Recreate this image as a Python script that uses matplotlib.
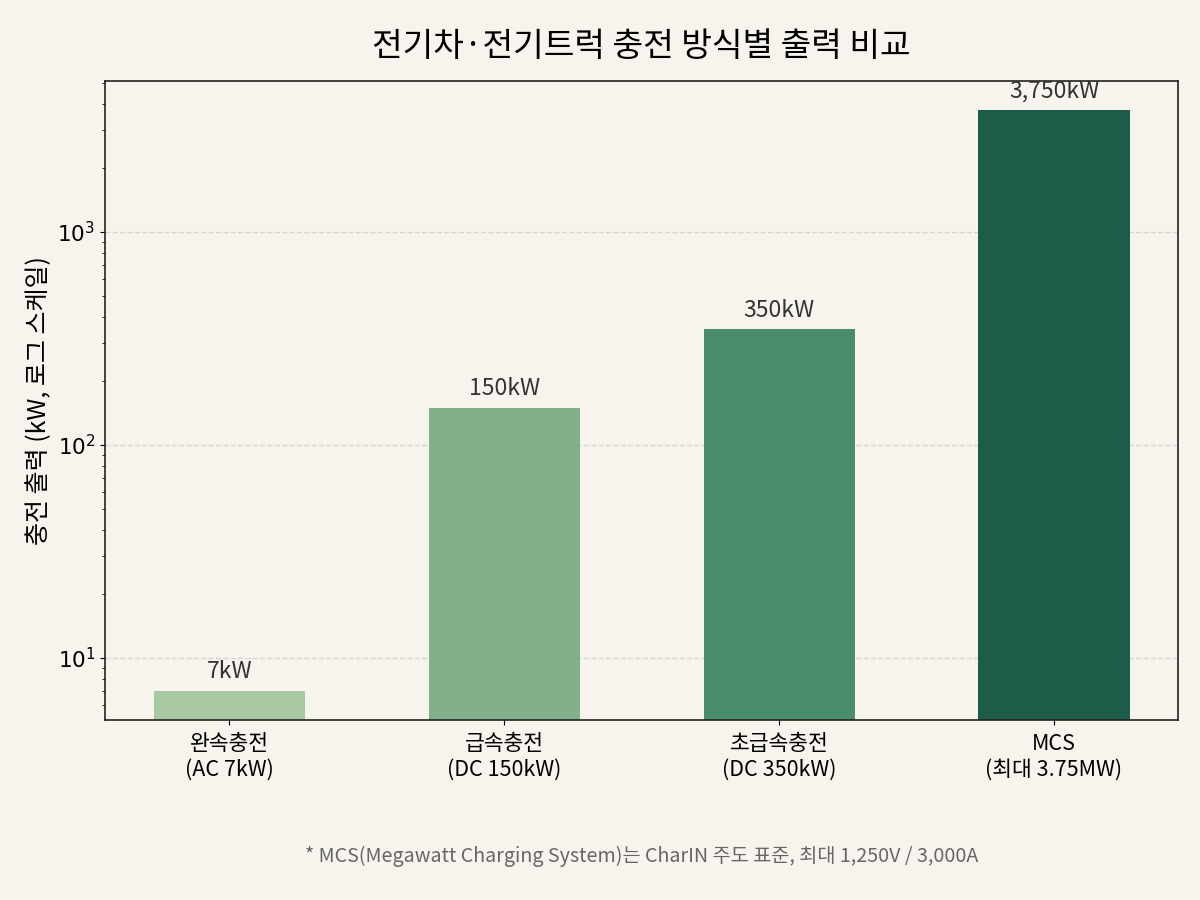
import matplotlib.pyplot as plt

plt.rcParams['font.family'] = ['Noto Sans CJK KR', 'DejaVu Sans']

# data
categories = ['완속충전\n(AC 7kW)', '급속충전\n(DC 150kW)', '초급속충전\n(DC 350kW)', 'MCS\n(최대 3.75MW)']
power_kw = [7, 150, 350, 3750]
value_labels = ['7kW', '150kW', '350kW', '3,750kW']
colors = ['#a8c8a2', '#82b08a', '#4a8c6e', '#1e5c4a']

bg = '#f7f4ee'
fig, ax = plt.subplots(figsize=(12, 9), dpi=100)
fig.patch.set_facecolor(bg)
ax.set_facecolor(bg)

x = range(len(categories))
bars = ax.bar(x, power_kw, width=0.55, color=colors, zorder=2)
ax.set_yscale('log')
ax.set_ylim(5.12, 5120)

for b, lab in zip(bars, value_labels):
    ax.annotate(lab, (b.get_x() + b.get_width() / 2, b.get_height()),
                xytext=(0, 5.5), textcoords='offset points',
                ha='center', va='bottom', fontsize=16.5, color='#333333',
                annotation_clip=False, clip_on=True)

ax.set_xticks(list(x))
ax.set_xticklabels(categories, fontsize=15.5)
ax.tick_params(axis='x', pad=6)
ax.tick_params(axis='y', labelsize=15.5)
for t in ax.get_yticklabels():
    t.set_fontfamily('DejaVu Sans')
ax.set_ylabel('충전 출력 (kW, 로그 스케일)', fontsize=18)
ax.set_title('전기차·전기트럭 충전 방식별 출력 비교', fontsize=24, pad=18)
ax.grid(axis='y', which='major', linestyle='--', color='#d8d6d0', linewidth=1, zorder=0)

for s in ax.spines.values():
    s.set_color('#222222')
    s.set_linewidth(1.2)

fig.text(0.535, 0.042, '* MCS(Megawatt Charging System)는 CharIN 주도 표준, 최대 1,250V / 3,000A',
         ha='center', fontsize=14.2, color='#666666')

plt.subplots_adjust(left=0.0875, right=0.982, top=0.91, bottom=0.2)
plt.savefig('out.png', facecolor=bg)
